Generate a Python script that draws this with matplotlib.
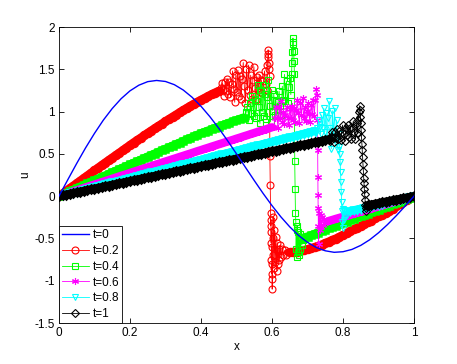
import matplotlib
matplotlib.use("Agg")
import matplotlib.pyplot as plt

plt.rcParams['font.family'] = ['Liberation Sans', 'DejaVu Sans']
plt.rcParams['axes.unicode_minus'] = False

# ---------------- data ----------------
labels = ["t=0", "t=0.2", "t=0.4", "t=0.6", "t=0.8", "t=1"]
x_ticks = [0, 0.2, 0.4, 0.6, 0.8, 1]
x_ticklabels = ["0", "0.2", "0.4", "0.6", "0.8", "1"]
y_ticks = [-1.5, -1, -0.5, 0, 0.5, 1, 1.5, 2]
y_ticklabels = ["-1.5", "-1", "-0.5", "0", "0.5", "1", "1.5", "2"]

# t = 0
x0 = [0.000, 0.025, 0.050, 0.075, 0.100, 0.125, 0.150, 0.175, 0.200, 0.225, 0.250,
      0.275, 0.300, 0.325, 0.350, 0.375, 0.400, 0.425, 0.450, 0.475, 0.500, 0.525,
      0.550, 0.575, 0.600, 0.625, 0.650, 0.675, 0.700, 0.725, 0.750, 0.775, 0.800,
      0.825, 0.850, 0.875, 0.900, 0.925, 0.950, 0.975, 1.000]
u0 = [0.000, 0.195, 0.387, 0.571, 0.742, 0.899, 1.036, 1.152, 1.245, 1.312, 1.354,
      1.368, 1.356, 1.318, 1.255, 1.169, 1.063, 0.940, 0.803, 0.655, 0.500, 0.342,
      0.185, 0.032, -0.112, -0.245, -0.363, -0.465, -0.546, -0.608, -0.646, -0.664,
      -0.657, -0.630, -0.582, -0.516, -0.433, -0.337, -0.231, -0.117, 0.000]

# t = 0.2
x1_ramp = [0.00, 0.01, 0.02, 0.03, 0.04, 0.05, 0.06, 0.07, 0.08, 0.09, 0.10, 0.11, 0.12,
           0.13, 0.14, 0.15, 0.16, 0.17, 0.18, 0.19, 0.20, 0.21, 0.22, 0.23, 0.24, 0.25,
           0.26, 0.27, 0.28, 0.29, 0.30, 0.31, 0.32, 0.33, 0.34, 0.35, 0.36, 0.37, 0.38,
           0.39, 0.40, 0.41, 0.42, 0.43, 0.44, 0.45]
u1_ramp = [0.000, 0.031, 0.061, 0.092, 0.122, 0.153, 0.183, 0.214, 0.244, 0.275, 0.305,
           0.336, 0.366, 0.396, 0.426, 0.455, 0.485, 0.514, 0.544, 0.574, 0.604, 0.634,
           0.662, 0.690, 0.719, 0.748, 0.776, 0.803, 0.830, 0.858, 0.885, 0.912, 0.939,
           0.965, 0.991, 1.017, 1.043, 1.068, 1.092, 1.116, 1.139, 1.161, 1.183, 1.205,
           1.225, 1.245]
x1_osc = [0.453, 0.456, 0.459, 0.462, 0.465, 0.468, 0.471, 0.474, 0.477, 0.480, 0.483,
          0.486, 0.489, 0.492, 0.495, 0.498, 0.501, 0.504, 0.507, 0.510, 0.513, 0.516,
          0.519, 0.522, 0.525, 0.528, 0.531, 0.534, 0.537, 0.540, 0.543, 0.546, 0.549,
          0.552, 0.555, 0.558, 0.561, 0.564, 0.567, 0.570, 0.573, 0.576, 0.579, 0.582,
          0.585, 0.587, 0.588, 0.589, 0.590, 0.591, 0.592, 0.593, 0.594, 0.595, 0.596,
          0.5965, 0.597, 0.5975, 0.598, 0.5985, 0.599, 0.5995, 0.600, 0.6005, 0.601,
          0.6015, 0.602, 0.603, 0.605, 0.607, 0.609, 0.611, 0.613, 0.615, 0.617, 0.619,
          0.621, 0.623, 0.626, 0.629, 0.632, 0.636, 0.640, 0.645]
u1_osc = [1.24, 1.28, 1.34, 1.26, 1.19, 1.35, 1.24, 1.39, 1.21, 1.35, 1.17,
          1.33, 1.48, 1.27, 1.11, 1.43, 1.23, 1.49, 1.19, 1.42, 1.15, 1.38,
          1.58, 1.30, 1.10, 1.50, 1.25, 1.55, 1.20, 1.43, 1.15, 1.37, 1.53,
          1.28, 1.14, 1.41, 1.25, 1.43, 1.23, 1.37, 1.22, 1.36, 1.48, 1.33,
          1.25, 1.55, 1.65, 1.73, 1.68, 1.58, 1.50, 1.42, 0.47, 0.13, -0.20,
          -0.35, -0.28, -0.55, -0.42, -0.75, -0.60, -0.92, -0.80, -1.10, -0.98,
          -0.70, -0.50, -0.25, -0.85, -0.40, -0.78, -0.48, -0.88, -0.55, -0.80, -0.62,
          -0.75, -0.58, -0.72, -0.62, -0.70, -0.64, -0.69, -0.66]
x1_tail = [0.65, 0.66, 0.67, 0.68, 0.69, 0.70, 0.71, 0.72, 0.73, 0.74, 0.75, 0.76, 0.77,
           0.78, 0.79, 0.80, 0.81, 0.82, 0.83, 0.84, 0.85, 0.86, 0.87, 0.88, 0.89, 0.90,
           0.91, 0.92, 0.93, 0.94, 0.95, 0.96, 0.97, 0.98, 0.99, 1.00]
u1_tail = [-0.663, -0.660, -0.656, -0.648, -0.639, -0.628, -0.617, -0.603, -0.588, -0.572,
           -0.555, -0.537, -0.518, -0.501, -0.480, -0.458, -0.438, -0.415, -0.394, -0.371,
           -0.355, -0.333, -0.311, -0.289, -0.264, -0.240, -0.218, -0.195, -0.172, -0.147,
           -0.122, -0.098, -0.073, -0.049, -0.024, 0.000]

# t = 0.4
x2_ramp = [0.00, 0.01, 0.02, 0.03, 0.04, 0.05, 0.06, 0.07, 0.08, 0.09, 0.10, 0.11, 0.12,
           0.13, 0.14, 0.15, 0.16, 0.17, 0.18, 0.19, 0.20, 0.21, 0.22, 0.23, 0.24, 0.25,
           0.26, 0.27, 0.28, 0.29, 0.30, 0.31, 0.32, 0.33, 0.34, 0.35, 0.36, 0.37, 0.38,
           0.39, 0.40, 0.41, 0.42, 0.43, 0.44, 0.45, 0.46, 0.47, 0.48, 0.49, 0.50, 0.51,
           0.52]
u2_ramp = [0.000, 0.019, 0.038, 0.057, 0.076, 0.094, 0.113, 0.132, 0.151, 0.170, 0.188,
           0.207, 0.226, 0.244, 0.263, 0.282, 0.300, 0.319, 0.338, 0.356, 0.375, 0.393,
           0.412, 0.430, 0.449, 0.468, 0.486, 0.504, 0.523, 0.541, 0.560, 0.578, 0.597,
           0.615, 0.633, 0.652, 0.670, 0.688, 0.707, 0.725, 0.743, 0.759, 0.775, 0.791,
           0.807, 0.822, 0.838, 0.854, 0.869, 0.884, 0.899, 0.914, 0.929]
x2_osc = [0.524, 0.527, 0.530, 0.533, 0.536, 0.539, 0.542, 0.545, 0.548, 0.551, 0.554,
          0.557, 0.560, 0.563, 0.566, 0.569, 0.572, 0.575, 0.578, 0.581, 0.584, 0.587,
          0.590, 0.593, 0.596, 0.599, 0.602, 0.605, 0.608, 0.611, 0.614, 0.617, 0.620,
          0.623, 0.626, 0.629, 0.632, 0.635, 0.638, 0.641, 0.644, 0.647, 0.650, 0.653,
          0.655, 0.656, 0.657, 0.658, 0.659, 0.660, 0.661, 0.662, 0.663, 0.664, 0.665,
          0.666, 0.667, 0.668, 0.669, 0.670, 0.671, 0.672, 0.674, 0.676, 0.678, 0.680,
          0.682, 0.684, 0.686, 0.688]
u2_osc = [0.93, 0.99, 1.06, 0.98, 0.90, 1.10, 0.98, 1.18, 0.95, 1.15, 0.92,
          1.13, 1.32, 1.05, 0.86, 1.26, 1.00, 1.31, 0.95, 1.21, 0.91, 1.17,
          1.37, 1.07, 0.88, 1.26, 1.01, 1.21, 0.96, 1.13, 0.95, 1.11, 1.24,
          1.07, 0.96, 1.30, 1.14, 1.44, 1.12, 1.36, 1.10, 1.29, 1.40, 1.20,
          1.45, 1.58, 1.70, 1.80, 1.87, 1.82, 1.72, 1.60, 1.45, 0.41, 0.08,
          -0.20, -0.30, -0.62, -0.40, -0.72, -0.35, -0.66, -0.42, -0.70, -0.45, -0.62,
          -0.48, -0.58, -0.50, -0.52]
x2_tail = [0.69, 0.70, 0.71, 0.72, 0.73, 0.74, 0.75, 0.76, 0.77, 0.78, 0.79, 0.80, 0.81,
           0.82, 0.83, 0.84, 0.85, 0.86, 0.87, 0.88, 0.89, 0.90, 0.91, 0.92, 0.93, 0.94,
           0.95, 0.96, 0.97, 0.98, 0.99, 1.00]
u2_tail = [-0.490, -0.478, -0.462, -0.446, -0.430, -0.414, -0.398, -0.381, -0.365, -0.350,
           -0.333, -0.317, -0.300, -0.284, -0.268, -0.252, -0.237, -0.222, -0.206, -0.190,
           -0.176, -0.160, -0.145, -0.130, -0.114, -0.098, -0.082, -0.065, -0.049, -0.033,
           -0.016, 0.000]

# t = 0.6
x3_ramp = [0.00, 0.01, 0.02, 0.03, 0.04, 0.05, 0.06, 0.07, 0.08, 0.09, 0.10, 0.11, 0.12,
           0.13, 0.14, 0.15, 0.16, 0.17, 0.18, 0.19, 0.20, 0.21, 0.22, 0.23, 0.24, 0.25,
           0.26, 0.27, 0.28, 0.29, 0.30, 0.31, 0.32, 0.33, 0.34, 0.35, 0.36, 0.37, 0.38,
           0.39, 0.40, 0.41, 0.42, 0.43, 0.44, 0.45, 0.46, 0.47, 0.48, 0.49, 0.50, 0.51,
           0.52, 0.53, 0.54, 0.55, 0.56, 0.57, 0.58, 0.59, 0.60]
u3_ramp = [0.000, 0.014, 0.027, 0.041, 0.055, 0.069, 0.082, 0.096, 0.110, 0.124, 0.137,
           0.151, 0.165, 0.178, 0.192, 0.206, 0.219, 0.233, 0.247, 0.260, 0.274, 0.288,
           0.301, 0.315, 0.328, 0.342, 0.355, 0.369, 0.383, 0.396, 0.410, 0.423, 0.437,
           0.450, 0.464, 0.477, 0.491, 0.504, 0.518, 0.532, 0.545, 0.559, 0.572, 0.586,
           0.599, 0.613, 0.626, 0.640, 0.653, 0.666, 0.680, 0.693, 0.707, 0.720, 0.734,
           0.747, 0.761, 0.774, 0.787, 0.801, 0.814]
x3_osc = [0.605, 0.608, 0.611, 0.614, 0.617, 0.620, 0.623, 0.626, 0.629, 0.632, 0.635,
          0.638, 0.641, 0.644, 0.647, 0.650, 0.653, 0.656, 0.659, 0.662, 0.665, 0.668,
          0.671, 0.674, 0.677, 0.680, 0.683, 0.686, 0.689, 0.692, 0.695, 0.698, 0.701,
          0.704, 0.707, 0.710, 0.713, 0.716, 0.719, 0.722, 0.725, 0.727, 0.728, 0.7285,
          0.729, 0.7295, 0.730, 0.7305, 0.731, 0.733, 0.735, 0.737, 0.739, 0.741, 0.744,
          0.747, 0.750, 0.753, 0.756]
u3_osc = [0.82, 0.92, 1.05, 0.92, 0.81, 1.06, 0.92, 1.13, 0.88, 1.00, 0.85,
          0.96, 1.05, 0.92, 0.84, 1.03, 0.92, 1.07, 0.90, 1.04, 0.88, 1.02,
          1.14, 0.98, 0.86, 1.10, 0.96, 1.16, 0.93, 1.05, 0.89, 1.01, 1.10,
          0.97, 0.88, 1.08, 0.97, 1.14, 0.95, 1.14, 1.27, 1.20, 0.90, 0.54,
          0.23, 0.01, -0.14, -0.35, -0.57, -0.20, -0.40, -0.22, -0.36, -0.25, -0.34,
          -0.27, -0.32, -0.29, -0.30]
x3_tail = [0.76, 0.77, 0.78, 0.79, 0.80, 0.81, 0.82, 0.83, 0.84, 0.85, 0.86, 0.87, 0.88,
           0.89, 0.90, 0.91, 0.92, 0.93, 0.94, 0.95, 0.96, 0.97, 0.98, 0.99, 1.00]
u3_tail = [-0.293, -0.281, -0.268, -0.256, -0.244, -0.232, -0.220, -0.207, -0.195, -0.183,
           -0.171, -0.159, -0.146, -0.134, -0.122, -0.110, -0.098, -0.085, -0.073, -0.061,
           -0.049, -0.037, -0.024, -0.012, 0.000]

# t = 0.8
x4_ramp = [0.00, 0.01, 0.02, 0.03, 0.04, 0.05, 0.06, 0.07, 0.08, 0.09, 0.10, 0.11, 0.12,
           0.13, 0.14, 0.15, 0.16, 0.17, 0.18, 0.19, 0.20, 0.21, 0.22, 0.23, 0.24, 0.25,
           0.26, 0.27, 0.28, 0.29, 0.30, 0.31, 0.32, 0.33, 0.34, 0.35, 0.36, 0.37, 0.38,
           0.39, 0.40, 0.41, 0.42, 0.43, 0.44, 0.45, 0.46, 0.47, 0.48, 0.49, 0.50, 0.51,
           0.52, 0.53, 0.54, 0.55, 0.56, 0.57, 0.58, 0.59, 0.60, 0.61, 0.62, 0.63, 0.64,
           0.65, 0.66, 0.67, 0.68, 0.69, 0.70, 0.71, 0.72]
u4_ramp = [0.000, 0.011, 0.022, 0.032, 0.043, 0.054, 0.065, 0.075, 0.086, 0.097, 0.108,
           0.119, 0.129, 0.140, 0.151, 0.162, 0.172, 0.183, 0.194, 0.204, 0.215, 0.226,
           0.237, 0.247, 0.258, 0.269, 0.280, 0.290, 0.301, 0.312, 0.322, 0.333, 0.344,
           0.354, 0.365, 0.376, 0.386, 0.397, 0.408, 0.418, 0.429, 0.440, 0.450, 0.461,
           0.472, 0.482, 0.493, 0.504, 0.514, 0.525, 0.536, 0.546, 0.557, 0.568, 0.578,
           0.589, 0.600, 0.610, 0.621, 0.631, 0.642, 0.652, 0.663, 0.674, 0.684, 0.695,
           0.705, 0.716, 0.726, 0.737, 0.748, 0.758, 0.769]
x4_osc = [0.725, 0.728, 0.731, 0.734, 0.737, 0.740, 0.743, 0.746, 0.749, 0.752, 0.755,
          0.758, 0.761, 0.764, 0.767, 0.770, 0.773, 0.776, 0.779, 0.782, 0.785, 0.788,
          0.790, 0.791, 0.792, 0.793, 0.794, 0.795, 0.796, 0.797, 0.798, 0.799, 0.800,
          0.802, 0.804, 0.806, 0.808, 0.811, 0.814, 0.817]
u4_osc = [0.75, 0.81, 0.90, 0.82, 0.73, 0.96, 0.81, 1.04, 0.76, 0.98, 0.69,
          0.92, 1.12, 0.80, 0.56, 1.01, 0.71, 1.04, 0.63, 0.90, 0.55, 0.74,
          0.58, 0.50, 0.40, 0.29, 0.17, 0.05, -0.07, -0.18, -0.30, -0.38, -0.15,
          -0.28, -0.16, -0.24, -0.17, -0.22, -0.18, -0.19]
x4_tail = [0.82, 0.83, 0.84, 0.85, 0.86, 0.87, 0.88, 0.89, 0.90, 0.91, 0.92, 0.93, 0.94,
           0.95, 0.96, 0.97, 0.98, 0.99, 1.00]
u4_tail = [-0.178, -0.168, -0.158, -0.149, -0.139, -0.129, -0.119, -0.109, -0.099, -0.089,
           -0.079, -0.069, -0.059, -0.050, -0.040, -0.030, -0.020, -0.010, 0.000]

# t = 1
x5_ramp = [0.00, 0.01, 0.02, 0.03, 0.04, 0.05, 0.06, 0.07, 0.08, 0.09, 0.10, 0.11, 0.12,
           0.13, 0.14, 0.15, 0.16, 0.17, 0.18, 0.19, 0.20, 0.21, 0.22, 0.23, 0.24, 0.25,
           0.26, 0.27, 0.28, 0.29, 0.30, 0.31, 0.32, 0.33, 0.34, 0.35, 0.36, 0.37, 0.38,
           0.39, 0.40, 0.41, 0.42, 0.43, 0.44, 0.45, 0.46, 0.47, 0.48, 0.49, 0.50, 0.51,
           0.52, 0.53, 0.54, 0.55, 0.56, 0.57, 0.58, 0.59, 0.60, 0.61, 0.62, 0.63, 0.64,
           0.65, 0.66, 0.67, 0.68, 0.69, 0.70, 0.71, 0.72, 0.73, 0.74, 0.75, 0.76]
u5_ramp = [0.000, 0.009, 0.018, 0.027, 0.035, 0.044, 0.053, 0.062, 0.071, 0.080, 0.089,
           0.097, 0.106, 0.115, 0.124, 0.133, 0.142, 0.151, 0.159, 0.168, 0.177, 0.186,
           0.195, 0.204, 0.213, 0.221, 0.230, 0.239, 0.248, 0.257, 0.266, 0.274, 0.283,
           0.292, 0.301, 0.310, 0.319, 0.327, 0.336, 0.345, 0.354, 0.363, 0.372, 0.380,
           0.389, 0.398, 0.407, 0.416, 0.424, 0.433, 0.442, 0.451, 0.460, 0.468, 0.477,
           0.486, 0.495, 0.504, 0.512, 0.521, 0.530, 0.539, 0.548, 0.556, 0.565, 0.574,
           0.583, 0.591, 0.600, 0.609, 0.618, 0.627, 0.635, 0.644, 0.653, 0.662, 0.670]
x5_osc = [0.763, 0.766, 0.769, 0.772, 0.775, 0.778, 0.781, 0.784, 0.787, 0.790, 0.793,
          0.796, 0.799, 0.802, 0.805, 0.808, 0.811, 0.814, 0.817, 0.820, 0.823, 0.826,
          0.829, 0.832, 0.835, 0.838, 0.841, 0.843, 0.845, 0.847, 0.848, 0.849, 0.850,
          0.851, 0.852, 0.853, 0.854, 0.855, 0.856, 0.857, 0.858, 0.859, 0.860, 0.861,
          0.862, 0.863, 0.864, 0.865, 0.867]
u5_osc = [0.65, 0.70, 0.76, 0.69, 0.64, 0.76, 0.69, 0.79, 0.68, 0.77, 0.66,
          0.76, 0.84, 0.73, 0.65, 0.81, 0.72, 0.84, 0.70, 0.81, 0.68, 0.80,
          0.89, 0.76, 0.67, 0.86, 0.75, 0.90, 1.00, 1.07, 1.02, 0.94, 0.86,
          0.78, 0.70, 0.62, 0.54, 0.46, 0.38, 0.30, 0.22, 0.15, 0.08, 0.02,
          -0.04, -0.10, -0.14, -0.17, -0.12]
x5_tail = [0.87, 0.88, 0.89, 0.90, 0.91, 0.92, 0.93, 0.94, 0.95, 0.96, 0.97, 0.98, 0.99,
           1.00]
u5_tail = [-0.107, -0.099, -0.091, -0.083, -0.074, -0.066, -0.058, -0.050, -0.041, -0.033,
           -0.025, -0.017, -0.008, 0.000]

# ---------------- plot ----------------
fig = plt.figure(figsize=(4.57, 3.64), dpi=100)
ax = fig.add_axes([0.129, 0.1126, 0.777, 0.8132])

ax.plot(x0, u0, color=(0, 0, 1), lw=1.0, label=labels[0], zorder=10)

series = [
    (x1_ramp, u1_ramp, x1_osc, u1_osc, x1_tail, u1_tail, (1, 0, 0), 'o', labels[1]),
    (x2_ramp, u2_ramp, x2_osc, u2_osc, x2_tail, u2_tail, (0, 1, 0), 's', labels[2]),
    (x3_ramp, u3_ramp, x3_osc, u3_osc, x3_tail, u3_tail, (1, 0, 1), (6, 2, 0), labels[3]),
    (x4_ramp, u4_ramp, x4_osc, u4_osc, x4_tail, u4_tail, (0, 1, 1), 'v', labels[4]),
    (x5_ramp, u5_ramp, x5_osc, u5_osc, x5_tail, u5_tail, (0, 0, 0), 'D', labels[5]),
]
ms = 5.0
for xr, ur, xo, uo, xt, ut, col, mk, lab in series:
    mks = ms * 0.9 if mk == 'D' else ms
    xs = xr + xo + xt
    us = ur + uo + ut
    # dense smooth parts: heavy marker edges form the solid bands
    for xx, uu in ((xr, ur), (xt, ut)):
        ax.plot(xx, uu, color=col, lw=6.0, marker=mk, ms=mks, mfc='none',
                mec=col, mew=1.8, solid_capstyle='round')
    ax.plot(xs, us, color=col, lw=0.6, marker=mk, ms=mks, mfc='none',
            mec=col, mew=0.8, label=lab)

ax.set_xlim(0, 1)
ax.set_ylim(-1.5, 2)
ax.set_xticks(x_ticks)
ax.set_xticklabels(x_ticklabels)
ax.set_yticks(y_ticks)
ax.set_yticklabels(y_ticklabels)
ax.tick_params(direction='in', length=3.5, width=0.6, top=True, right=True,
               labelsize=8.5, pad=3)
for s in ax.spines.values():
    s.set_linewidth(0.6)
ax.set_xlabel("x", fontsize=8.5, labelpad=1)
ax.set_ylabel("u", fontsize=8.5, labelpad=2)

leg = ax.legend(loc='lower left', fontsize=8.5, frameon=True, fancybox=False,
                framealpha=1, edgecolor='black', borderaxespad=0,
                handlelength=2.3, handletextpad=0.3, labelspacing=0.32,
                borderpad=0.25)
leg.get_frame().set_linewidth(0.6)
leg.set_zorder(20)

fig.savefig("out.png", dpi=100)
